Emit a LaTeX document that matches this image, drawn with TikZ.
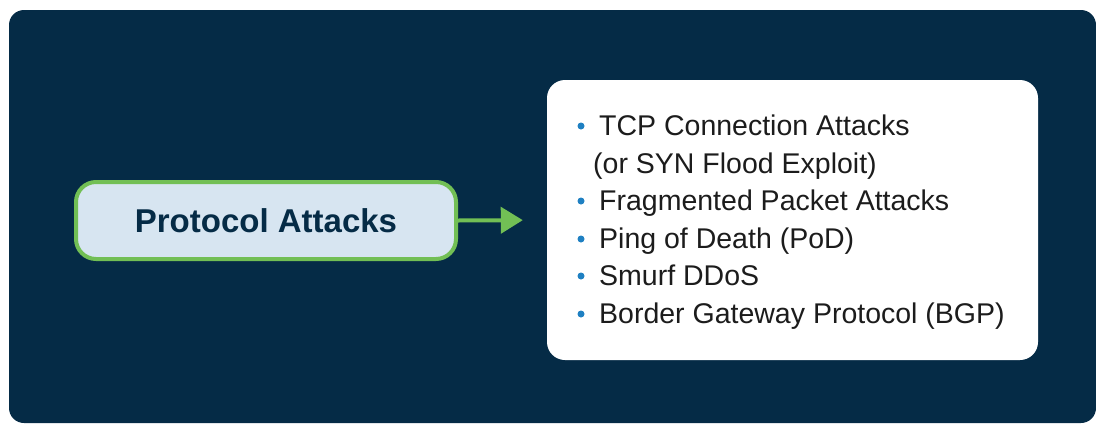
\documentclass[tikz,border=0pt]{standalone}
\usepackage{fontspec}
\setmainfont{Liberation Sans}
\usetikzlibrary{arrows.meta}
\definecolor{navy}{HTML}{052B46}
\definecolor{paleblue}{HTML}{D7E5F1}
\definecolor{leafgreen}{HTML}{72BF55}
\definecolor{dotblue}{HTML}{1F80C2}
\definecolor{inktext}{HTML}{1C1C1C}
\tikzset{
  panel/.style={fill=navy, rounded corners=15pt},
  titlebox/.style={draw=leafgreen, line width=4pt, fill=paleblue, rounded corners=20pt,
    minimum width=380pt, minimum height=77pt, inner sep=0pt,
    font=\fontsize{33}{36}\selectfont\bfseries, text=navy},
  listbox/.style={fill=white, rounded corners=18pt, minimum width=491pt,
    minimum height=280pt, inner sep=0pt},
  item/.style={anchor=base west, inner sep=0pt, font=\fontsize{28.5}{30}\selectfont, text=inktext},
  bulletdot/.style={fill=dotblue, circle, inner sep=0pt, minimum size=7pt},
  link/.style={draw=leafgreen, line width=4pt, -{Triangle[length=22pt,width=26pt]}}
}
\begin{document}
\begin{tikzpicture}[x=1pt,y=-1pt]
  \useasboundingbox (0,0) rectangle (1096,424);
  % dark backdrop
  \fill[panel] (9,10) rectangle (1096,423);

  % source box and item list
  \node[titlebox] (pa) at (266,220.5) {Protocol Attacks};
  \node[listbox] (list) at (792.5,220) {};

  \draw[link, shorten >=24pt] (pa.east) -- (list.west);

  % list entries
  \node[item] (i1)  at (599,135) {TCP Connection Attacks};
  \node[item] (i1b) at (593,173) {(or SYN Flood Exploit)};
  \node[item] (i2)  at (599,210) {Fragmented Packet Attacks};
  \node[item] (i3)  at (599,248) {Ping of Death (PoD)};
  \node[item] (i4)  at (599,285) {Smurf DDoS};
  \node[item] (i5)  at (599,323) {Border Gateway Protocol (BGP)};

  \node[bulletdot] (b1) at (581,126) {};
  \node[bulletdot] (b2) at (581,201) {};
  \node[bulletdot] (b3) at (581,239) {};
  \node[bulletdot] (b4) at (581,276) {};
  \node[bulletdot] (b5) at (581,314) {};
\end{tikzpicture}
\end{document}
